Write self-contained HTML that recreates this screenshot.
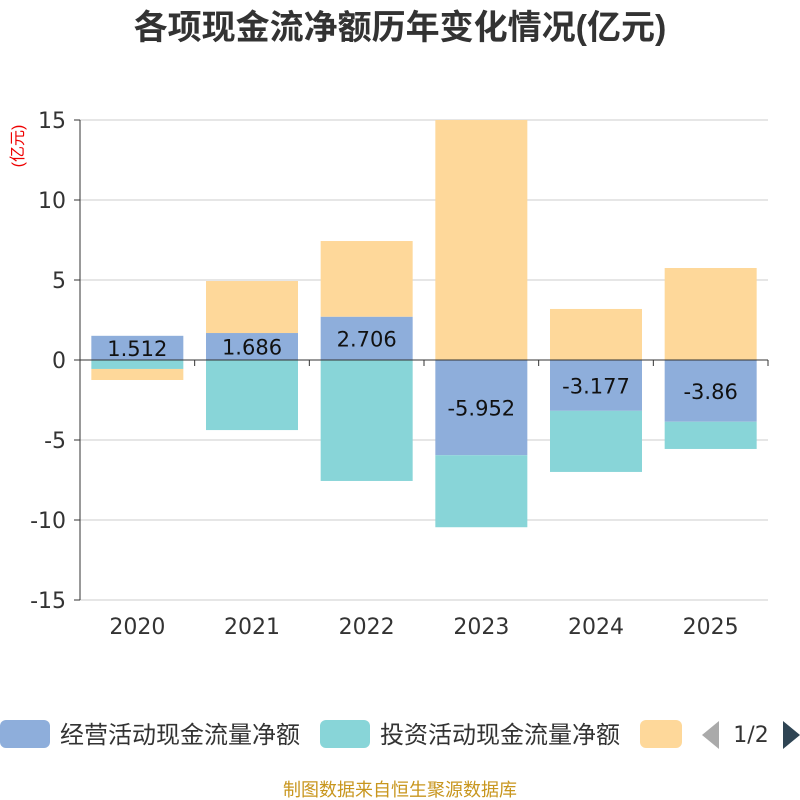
<!DOCTYPE html>
<html><head><meta charset="utf-8">
<style>
body{margin:0;background:#fff;font-family:"Liberation Sans","Noto Sans CJK SC",sans-serif;}
#wrap{position:relative;width:800px;height:800px;overflow:hidden;}
</style></head>
<body>
<div id="wrap">
<svg id="chart" width="800" height="800" xmlns="http://www.w3.org/2000/svg" style="font-family:'DejaVu Sans','Noto Sans CJK SC',sans-serif"></svg>
</div>
<script>
const categories = ['2020','2021','2022','2023','2024','2025'];
const operating = [1.512, 1.686, 2.706, -5.952, -3.177, -3.86];
const investing = [-0.56, -4.38, -7.56, -4.5, -3.82, -1.7];
const financing = [-0.69, 3.25, 4.73, 15.2, 3.19, 5.75];
const opLabels = ['1.512','1.686','2.706','-5.952','-3.177','-3.86'];
const yTicks = [15, 10, 5, 0, -5, -10, -15];

const svg = document.getElementById('chart');
const NS = 'http://www.w3.org/2000/svg';
const plotLeft = 80, plotRight = 768, plotTop = 120, plotBottom = 600, yMax = 15, yMin = -15;
const y = v => plotTop + (yMax - Math.max(yMin, Math.min(yMax, v))) / (yMax - yMin) * (plotBottom - plotTop);
const band = (plotRight - plotLeft) / categories.length;
const xc = i => plotLeft + band * (i + 0.5);
const barW = 92;
function mk(tag, attrs, parent) {
  const e = document.createElementNS(NS, tag);
  for (const k in attrs) e.setAttribute(k, attrs[k]);
  (parent || svg).appendChild(e);
  return e;
}

let t = mk('text', {x: 400, y: 39, 'text-anchor': 'middle', 'font-size': 34, 'font-weight': 'bold', fill: '#333', 'font-family': "'Liberation Sans','Noto Sans CJK SC',sans-serif"});
t.textContent = '各项现金流净额历年变化情况(亿元)';



t = mk('text', {x: 0, y: 0, 'text-anchor': 'middle', 'font-size': 16, fill: '#e00', transform: 'translate(23,146) rotate(-90)', 'font-family': "'Liberation Sans','Noto Sans CJK SC',sans-serif"});
t.textContent = '(亿元)';



yTicks.forEach(v => {
  const g = mk('line', {x1: plotLeft, x2: plotRight, y1: y(v), y2: y(v), stroke: v === 0 ? 'none' : '#ccc', 'stroke-width': 1});
  
  
  const tk = mk('line', {x1: plotLeft - 6, x2: plotLeft, y1: y(v), y2: y(v), stroke: '#333'});
  
  
  const l = mk('text', {x: plotLeft - 14, y: y(v) + 8, 'text-anchor': 'end', 'font-size': 22, fill: '#333'});
  l.textContent = v;
  
  
});

categories.forEach((c, i) => {
  const op = operating[i], inv = investing[i], fin = financing[i];
  let pos = 0, neg = 0;
  [[op, '#8eaedb', 'bar-operating'], [inv, '#88d5d8', 'bar-investing'], [fin, '#fed89a', 'bar-financing']].forEach(([v, col, nm]) => {
    let a, b;
    if (v >= 0) { a = pos; b = pos + v; pos = b; } else { a = neg; b = neg + v; neg = b; }
    const y1 = y(Math.max(a, b)), y2 = y(Math.min(a, b));
    const r = mk('rect', {x: xc(i) - barW / 2, y: y1, width: barW, height: y2 - y1, fill: col});
    
    
  });
  const lt = mk('text', {x: xc(i), y: (y(0) + y(op)) / 2 + 8, 'text-anchor': 'middle', 'font-size': 21, fill: '#111'});
  lt.textContent = opLabels[i];
  
  
  const cl = mk('text', {x: xc(i), y: 634, 'text-anchor': 'middle', 'font-size': 22, fill: '#333'});
  cl.textContent = c;
  
  
});

let ax = mk('line', {x1: plotLeft, x2: plotLeft, y1: plotTop, y2: plotBottom, stroke: '#333'});


ax = mk('line', {x1: plotLeft, x2: plotRight, y1: y(0), y2: y(0), stroke: '#333'});


for (let i = 0; i <= categories.length; i++) {
  const tk = mk('line', {x1: plotLeft + band * i, x2: plotLeft + band * i, y1: y(0), y2: y(0) + 6, stroke: '#333'});
  
  
}

const legend = [['经营活动现金流量净额', '#8eaedb', 0], ['投资活动现金流量净额', '#88d5d8', 320], ['', '#fed89a', 640]];
legend.forEach(([txt, col, x0], k) => {
  const r = mk('rect', {x: x0, y: 720, width: k === 2 ? 42 : 50, height: 28, rx: 6, fill: col});
  
  
  if (txt) {
    const l = mk('text', {x: x0 + 60, y: 743, 'font-size': 24, fill: '#333', 'font-family': "'Liberation Sans','Noto Sans CJK SC',sans-serif"});
    l.textContent = txt;
    
    
  }
});
let p = mk('path', {d: 'M702,735 L719,721 L719,749 Z', fill: '#aaa'});


t = mk('text', {x: 751, y: 742, 'text-anchor': 'middle', 'font-size': 22, fill: '#333'});
t.textContent = '1/2';


p = mk('path', {d: 'M783,721 L800,735 L783,749 Z', fill: '#2f4554'});



t = mk('text', {x: 400, y: 796, 'text-anchor': 'middle', 'font-size': 18, fill: '#c8961e', 'font-family': "'Liberation Sans','Noto Sans CJK SC',sans-serif"});
t.textContent = '制图数据来自恒生聚源数据库';


</script>
</body></html>
